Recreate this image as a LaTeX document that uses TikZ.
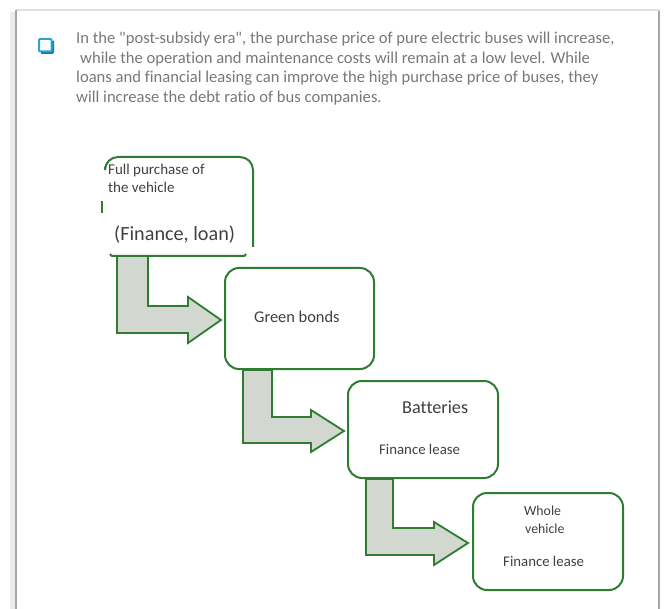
\documentclass[tikz,border=0pt]{standalone}
\usepackage{fontspec}
\setmainfont{Carlito}[Ligatures={TeXOff,NoCommon}]
\definecolor{boxgreen}{HTML}{2E7D32}
\definecolor{arrowfill}{HTML}{D2D7CF}
\definecolor{headgray}{HTML}{76797C}
\definecolor{txtgray}{HTML}{404040}
\definecolor{cbblue}{HTML}{2AA3DB}
\definecolor{cbdark}{HTML}{1B78A8}
\begin{document}
\begin{tikzpicture}[x=1pt,y=-1pt,
  boxline/.style={draw=boxgreen,line width=2pt},
  stepbox/.style={boxline,fill=white,rounded corners=14pt,rectangle,inner sep=0pt},
  bentarrow/.style={draw=boxgreen,line width=1.8pt,fill=arrowfill,line join=miter},
  headtxt/.style={anchor=base west,inner sep=0pt,text=headgray,font=\fontsize{16.6}{19}\selectfont},
  lbl/.style={anchor=base west,inner sep=0pt,text=txtgray},
  framel/.style={draw=black!35,line width=2.4pt},
]
\useasboundingbox (0,0) rectangle (666,609);
\fill[white] (0,0) rectangle (666,609);
% page frame
\draw[black!8,line width=6pt] (13,12) -- (13,609);
\draw[black!12,line width=1.5pt] (16,10) -- (660,10);
\draw[framel] (16,10) -- (16,609);
\draw[framel] (659,11) -- (659,609);
% checkbox
\draw[cbdark,line width=2pt,rounded corners=1pt] (41,53) -- (53,53) -- (53,41);
\draw[cbblue,line width=2pt,rounded corners=1pt,fill=white] (39,39) rectangle (51.5,51.5);
% header text
\node[headtxt] (h1) at (76,44) {In the "post-subsidy era", the purchase price of pure electric buses will increase,};
\node[headtxt] (h2) at (80,63.5) {while the operation and maintenance costs will remain at a low level. While};
\node[headtxt] (h3) at (76,83) {loans and financial leasing can improve the high purchase price of buses, they};
\node[headtxt] (h4) at (76,102.5) {will increase the debt ratio of bus companies.};
% arrows
\draw[bentarrow] (117,256) -- (148,256) -- (148,306) -- (188,306) -- (188,297) -- (221,320) -- (188,343) -- (188,333) -- (117,333) -- cycle;
\draw[bentarrow] (243,370) -- (272,370) -- (272,417) -- (311,417) -- (311,410) -- (344,431) -- (311,452) -- (311,443) -- (243,443) -- cycle;
\draw[bentarrow] (366,479) -- (393,479) -- (393,528) -- (434,528) -- (434,522) -- (468,543) -- (434,565) -- (434,555) -- (366,555) -- cycle;
% box 1 (irregular outline)
\node[inner sep=0pt,minimum width=149pt,minimum height=99pt] (b1) at (179,206.5) {};
\fill[white] (105,170) -- (105,255) -- (253,255) -- (253,170) -- cycle;
\draw[boxline,rounded corners=13pt] (105,167) -- (105,157) -- (253,157) -- (253,247);
\draw[boxline] (110,254) .. controls (111,256) .. (115,256) -- (241,256) .. controls (245,256) .. (246,254);
\draw[boxline] (101.5,201.5) -- (101.5,213.5);
% boxes 2-4
\node[stepbox,minimum width=149pt,minimum height=101pt] (b2) at (299.5,318.5) {};
\node[stepbox,minimum width=150pt,minimum height=97pt] (b3) at (423,429.5) {};
\node[stepbox,minimum width=150pt,minimum height=97pt] (b4) at (548,541.5) {};
% labels
\node[lbl,font=\fontsize{15}{18}\selectfont] (t1a) at (108,175) {Full purchase of};
\node[lbl,font=\fontsize{15}{18}\selectfont] (t1b) at (108,193) {the vehicle};
\node[lbl,font=\fontsize{20.2}{24}\selectfont] (t1c) at (114,241) {(Finance, loan)};
\node[lbl,font=\fontsize{16.4}{20}\selectfont] (t2) at (254,323) {Green bonds};
\node[lbl,font=\fontsize{18.2}{22}\selectfont] (t3a) at (402,413) {Batteries};
\node[lbl,font=\fontsize{14.8}{18}\selectfont] (t3b) at (379,454) {Finance lease};
\node[lbl,font=\fontsize{13.8}{17}\selectfont] (t4a) at (524,515) {Whole};
\node[lbl,font=\fontsize{13.8}{17}\selectfont] (t4b) at (525,533) {vehicle};
\node[lbl,font=\fontsize{14.8}{18}\selectfont] (t4c) at (503,566) {Finance lease};
\end{tikzpicture}
\end{document}
